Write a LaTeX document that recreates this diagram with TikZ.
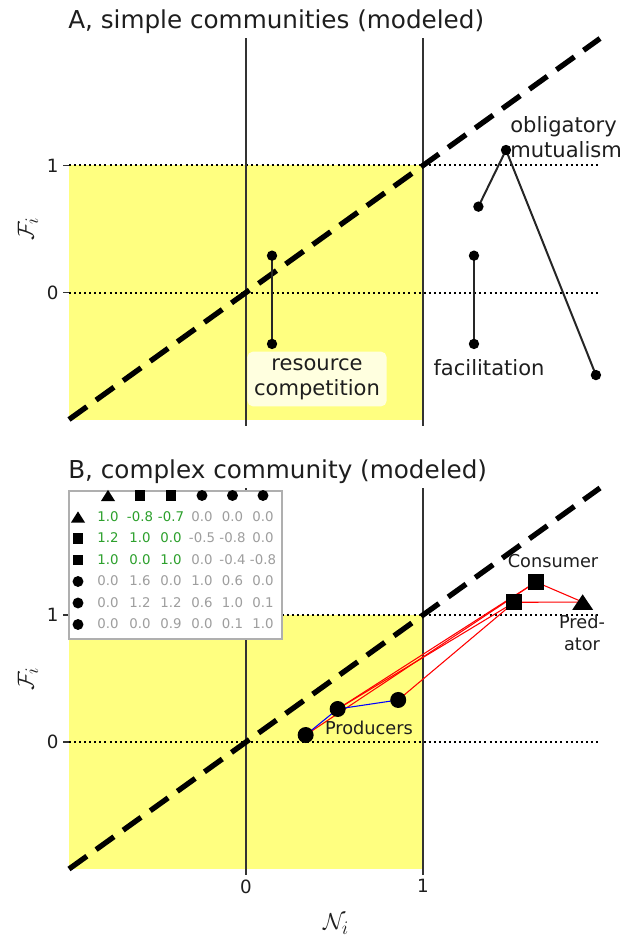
\documentclass[tikz,border=0pt]{standalone}
\usepackage{fontspec}
\setmainfont{DejaVu Sans}
\usetikzlibrary{shapes.geometric}
\definecolor{yel}{RGB}{255,255,128}
\definecolor{tgreen}{RGB}{44,160,44}
\definecolor{tgray}{RGB}{158,158,158}
\definecolor{lgray}{RGB}{175,175,175}
\definecolor{txt}{RGB}{30,30,30}
\tikzset{
  yfill/.style={fill=yel},
  dotln/.style={line width=1.5pt, dash pattern=on 1.5pt off 2.3pt},
  axln/.style={line width=1.4pt, black!80},
  diagln/.style={line width=4pt, dash pattern=on 16.5pt off 8.5pt},
  tickln/.style={line width=0.8pt, black!80},
  ticklab/.style={font=\fontsize{13.7}{14}\selectfont, text=txt, inner sep=3pt},
  titl/.style={font=\fontsize{18.5}{20}\selectfont, text=txt, anchor=base west, inner sep=0pt},
  axlab/.style={font=\fontsize{19}{19}\selectfont, text=txt},
  dotA/.style={circle, fill=black, inner sep=0pt, minimum size=7.8pt},
  conA/.style={line width=1.5pt, black!85},
  annA/.style={font=\fontsize{15.8}{18.8}\selectfont, text=txt, align=center},
  annB/.style={font=\fontsize{13.3}{16.5}\selectfont, text=txt, align=center},
  redln/.style={red, line width=0.8pt},
  blueln/.style={blue, line width=0.8pt},
  bigsq/.style={rectangle, fill=black, inner sep=0pt, minimum size=12pt},
  bigci/.style={circle, fill=black, inner sep=0pt, minimum size=12pt},
  smsq/.style={rectangle, fill=black, inner sep=0pt, minimum size=8.2pt},
  smci/.style={circle, fill=black, inner sep=0pt, minimum size=8.2pt},
  gnum/.style={font=\fontsize{10}{11}\selectfont, text=tgreen, inner sep=0pt},
  rnum/.style={font=\fontsize{10}{11}\selectfont, text=tgray, inner sep=0pt},
}
\newcommand{\smtri}[1]{\fill[shift={(#1)}] (-5.3pt,-4.2pt) -- (0pt,4.2pt) -- (5.3pt,-4.2pt) -- cycle;}
\newcommand{\bigtri}[1]{\fill[shift={(#1)}] (-7.8pt,-5.8pt) -- (0pt,5.8pt) -- (7.8pt,-5.8pt) -- cycle;}
\begin{document}
\begin{tikzpicture}[x=0.75pt,y=-0.75pt]
\useasboundingbox (0,0) rectangle (622,938);
\clip (0,0) rectangle (622,938);

% ---------- Panel A ----------
\node[titl] (titleA) at (68,28.5) {A, simple communities (modeled)};
\node[axlab, rotate=90] (ylabA) at (28,229) {$\mathcal{F}_i$};
\begin{scope}[shift={(246,292.5)}, x=132.75pt, y=95.25pt]
  \fill[yfill] (-1,-1) rectangle (1,1);
  \draw[dotln] (-1,0) -- (2,0);
  \draw[dotln] (-1,1) -- (2,1);
  \draw[axln] (0,-1) -- (0,2);
  \draw[axln] (1,-1) -- (1,2);
  \draw[tickln] (0,-1) -- ++(0pt,-4.5pt);
  \draw[tickln] (1,-1) -- ++(0pt,-4.5pt);
  \draw[tickln] (-1,0) -- ++(-4.5pt,0pt) node[ticklab, left] (yA0) {0};
  \draw[tickln] (-1,1) -- ++(-4.5pt,0pt) node[ticklab, left] (yA1) {1};
  \draw[diagln] (-1,-1) -- (2,2);
  \coordinate (rcT) at (0.147,0.29);
  \coordinate (rcB) at (0.147,-0.405);
  \coordinate (faT) at (1.288,0.29);
  \coordinate (faB) at (1.288,-0.405);
  \coordinate (mu1) at (1.313,0.676);
  \coordinate (mu2) at (1.469,1.122);
  \coordinate (mu3) at (1.977,-0.65);
  \draw[conA] (rcT) -- (rcB);
  \draw[conA] (faT) -- (faB);
  \draw[conA] (mu1) -- (mu2) -- (mu3);
  \foreach \p in {rcT,rcB,faT,faB,mu1,mu2,mu3} \node[dotA] (d\p) at (\p) {};
\end{scope}
\node[annA, fill=white, fill opacity=0.75, text opacity=1, rounded corners=4pt, inner xsep=5pt, inner ysep=5pt] (rc) at (317,379) {resource\\competition};
\node[annA] (fac) at (489,368) {facilitation};
\node[annA, align=left, anchor=west, inner xsep=0pt] (mut) at (510,137.5) {obligatory\\mutualism};

% ---------- Panel B ----------
\node[titl] (titleB) at (68,478) {B, complex community (modeled)};
\node[axlab, rotate=90] (ylabB) at (28,679) {$\mathcal{F}_i$};
\node[axlab] (xlab) at (336,924) {$\mathcal{N}_i$};
\begin{scope}[shift={(246,742)}, x=132.75pt, y=95.25pt]
  \fill[yfill] (-1,-1) rectangle (1,1);
  \draw[dotln] (-1,0) -- (2,0);
  \draw[dotln] (-1,1) -- (2,1);
  \draw[axln] (0,-1) -- (0,2);
  \draw[axln] (1,-1) -- (1,2);
  \draw[tickln] (0,-1) -- ++(0pt,-4.5pt) node[ticklab, below] (xB0) {0};
  \draw[tickln] (1,-1) -- ++(0pt,-4.5pt) node[ticklab, below] (xB1) {1};
  \draw[tickln] (-1,0) -- ++(-4.5pt,0pt) node[ticklab, left] (yB0) {0};
  \draw[tickln] (-1,1) -- ++(-4.5pt,0pt) node[ticklab, left] (yB1) {1};
  \draw[diagln] (-1,-1) -- (2,2);
  \coordinate (c1) at (0.337,0.055);
  \coordinate (c2) at (0.518,0.260);
  \coordinate (c3) at (0.860,0.331);
  \coordinate (sqL) at (1.516,1.100);
  \coordinate (sqR) at (1.638,1.260);
  \coordinate (pred) at (1.902,1.102);
  \draw[redln] (c1) -- (sqR);
  \draw[redln] (c2) -- (sqR);
  \draw[redln] (c2) -- (sqL);
  \draw[redln] (c3) -- (sqL);
  \draw[redln] (sqL) -- (pred);
  \draw[redln] (sqR) -- (pred);
  \draw[blueln] (c1) -- (c2);
  \draw[blueln] (c2) -- (c3);
  \node[bigci] (mc1) at (c1) {};
  \node[bigci] (mc2) at (c2) {};
  \node[bigci] (mc3) at (c3) {};
  \node[bigsq] (msqL) at (sqL) {};
  \node[bigsq] (msqR) at (sqR) {};
  \bigtri{pred}
\end{scope}
\node[annB] (cons) at (553,561) {Consumer};
\node[annB] (predl) at (582,633) {Pred-\\ator};
\node[annB] (prod) at (369,728) {Producers};

% legend table
\node[draw=lgray, line width=1.2pt, fill=white, minimum width=159.75pt, minimum height=111pt, inner sep=0pt, anchor=north west] (legend) at (68,490) {};
\coordinate (h1) at (108,495.5);
\smtri{h1}
\node[smsq] (h2) at (140,495.5) {};
\node[smsq] (h3) at (171,495.5) {};
\node[smci] (h4) at (202,495.5) {};
\node[smci] (h5) at (232.5,495.5) {};
\node[smci] (h6) at (263,495.5) {};
\coordinate (r1) at (78,517);
\smtri{r1}
\node[smsq] (r2) at (78,538.5) {};
\node[smsq] (r3) at (78,560) {};
\node[smci] (r4) at (78,581.5) {};
\node[smci] (r5) at (78,603) {};
\node[smci] (r6) at (78,624.5) {};
% row 1
\node[gnum] (n11) at (108,516.5) {1.0};
\node[gnum] (n12) at (140,516.5) {-0.8};
\node[gnum] (n13) at (171,516.5) {-0.7};
\node[rnum] (n14) at (202,516.5) {0.0};
\node[rnum] (n15) at (232.5,516.5) {0.0};
\node[rnum] (n16) at (263,516.5) {0.0};
% row 2
\node[gnum] (n21) at (108,538) {1.2};
\node[gnum] (n22) at (140,538) {1.0};
\node[gnum] (n23) at (171,538) {0.0};
\node[rnum] (n24) at (202,538) {-0.5};
\node[rnum] (n25) at (232.5,538) {-0.8};
\node[rnum] (n26) at (263,538) {0.0};
% row 3
\node[gnum] (n31) at (108,559.5) {1.0};
\node[gnum] (n32) at (140,559.5) {0.0};
\node[gnum] (n33) at (171,559.5) {1.0};
\node[rnum] (n34) at (202,559.5) {0.0};
\node[rnum] (n35) at (232.5,559.5) {-0.4};
\node[rnum] (n36) at (263,559.5) {-0.8};
% row 4
\node[rnum] (n41) at (108,581) {0.0};
\node[rnum] (n42) at (140,581) {1.6};
\node[rnum] (n43) at (171,581) {0.0};
\node[rnum] (n44) at (202,581) {1.0};
\node[rnum] (n45) at (232.5,581) {0.6};
\node[rnum] (n46) at (263,581) {0.0};
% row 5
\node[rnum] (n51) at (108,602.5) {0.0};
\node[rnum] (n52) at (140,602.5) {1.2};
\node[rnum] (n53) at (171,602.5) {1.2};
\node[rnum] (n54) at (202,602.5) {0.6};
\node[rnum] (n55) at (232.5,602.5) {1.0};
\node[rnum] (n56) at (263,602.5) {0.1};
% row 6
\node[rnum] (n61) at (108,624) {0.0};
\node[rnum] (n62) at (140,624) {0.0};
\node[rnum] (n63) at (171,624) {0.9};
\node[rnum] (n64) at (202,624) {0.0};
\node[rnum] (n65) at (232.5,624) {0.1};
\node[rnum] (n66) at (263,624) {1.0};
\end{tikzpicture}
\end{document}
